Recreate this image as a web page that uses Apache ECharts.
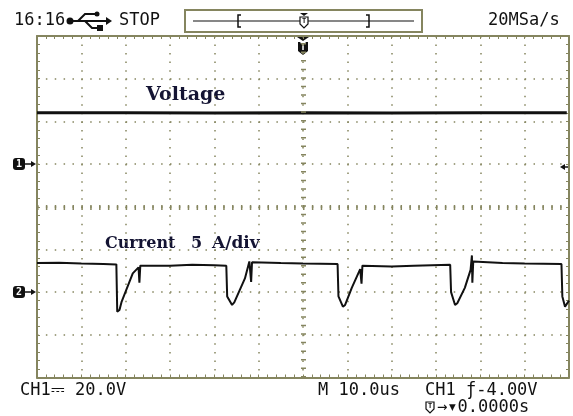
<!DOCTYPE html>
<html>
<head>
<meta charset="utf-8">
<script src="https://cdn.jsdelivr.net/npm/echarts@6/dist/echarts.min.js"></script>
<style>
  html, body { margin: 0; padding: 0; background: #fff; }
  #scope { width: 573px; height: 416px; }
</style>
</head>
<body>
<div id="scope"></div>
<script>
// time axis in microseconds (M 10.0us / div, 12 div)
var timeTicks = [-60, 60, 10];
// CH1 voltage (V), 20 V/div
var voltTime = [-60, -40, -20, 0, 20, 40, 59.5];
var voltValue = [24.0, 24.0, 23.9, 24.0, 23.9, 24.0, 24.0];
// CH2 current (A), 5 A/div
var currTime = [-60, -55, -50, -45, -42.1, -41.9, -41.4, -40.9, -38.4, -37.1, -36.9, -36.7, -36.4,
  -30, -25, -20, -17.3, -17.1, -16.0, -15.5, -13.1, -12.1, -11.9, -11.7, -11.5,
  -5, 0, 7.8, 8.0, 9.0, 9.5, 11.0, 12.9, 13.2, 13.4,
  20, 25, 33.2, 33.4, 34.3, 34.8, 36.5, 37.8, 38.1, 38.2, 38.4,
  45, 50, 58.3, 58.5, 59.1, 60];
var currValue = [3.4, 3.45, 3.35, 3.3, 3.25, -2.3, -2.1, -1.1, 2.2, 2.9, 1.1, 3.1, 3.2,
  3.1, 3.2, 3.15, 3.1, -0.5, -1.5, -1.2, 1.6, 3.6, 3.75, 1.2, 3.5,
  3.4, 3.35, 3.3, -0.5, -1.7, -1.5, 0.5, 2.7, 1.0, 3.1,
  3.0, 3.1, 3.2, 0.0, -1.5, -1.3, 0.5, 2.6, 4.3, 1.1, 3.6,
  3.4, 3.35, 3.3, -0.5, -1.7, -1.0];

var OLIVE = "#85855f";
var MONO = "DejaVu Sans Mono";
var STATUS_FONT = "17px " + MONO;

function pairs(xs, ys) {
    return xs.map(function (x, i) { return [x, ys[i]]; });
}

var chart = echarts.init(document.getElementById("scope"), null, { renderer: "canvas" });

function frameAxis(pos, min, max, step, dots) {
    return {
        type: "value",
        position: pos,
        min: min,
        max: max,
        interval: step,
        axisLine: { show: true, onZero: false, lineStyle: { color: OLIVE, width: 2 } },
        axisTick: { show: true, inside: true, length: 3, lineStyle: { color: OLIVE } },
        minorTick: { show: true, splitNumber: 5, length: 3, lineStyle: { color: OLIVE } },
        axisLabel: { show: false },
        splitLine: dots ? { show: true, lineStyle: { color: OLIVE, width: 1.5, type: dots } } : { show: false }
    };
}

function txt(x, y, s, font, fill, align) {
    return {
        type: "text", x: x, y: y, silent: true,
        style: { text: s, font: font || STATUS_FONT, fill: fill || "#111",
                 textAlign: align || "left", textVerticalAlign: "middle" }
    };
}

function chMarker(label, y) {
    return [
        { type: "rect", shape: { x: 13, y: y - 6, width: 12, height: 12, r: 3 }, style: { fill: "#111" } },
        txt(19, y + 0.5, label, "bold 10px " + MONO, "#fff", "center"),
        { type: "line", shape: { x1: 25, y1: y, x2: 32, y2: y }, style: { stroke: "#111", lineWidth: 1.5 } },
        { type: "polygon", shape: { points: [[31, y - 3], [36, y], [31, y + 3]] }, style: { fill: "#111" } }
    ];
}

var graphics = [
    txt(14, 21, "16:16"),
    // usb symbol
    { type: "circle", shape: { cx: 70, cy: 21, r: 3.5 }, style: { fill: "#111" } },
    { type: "line", shape: { x1: 70, y1: 21, x2: 107, y2: 21 }, style: { stroke: "#111", lineWidth: 2 } },
    { type: "polygon", shape: { points: [[106, 17], [112, 21], [106, 25]] }, style: { fill: "#111" } },
    { type: "polyline", shape: { points: [[78, 21], [85, 14], [95, 14]] }, style: { stroke: "#111", lineWidth: 2, fill: null } },
    { type: "circle", shape: { cx: 97, cy: 14, r: 2.5 }, style: { fill: "#111" } },
    { type: "polyline", shape: { points: [[85, 21], [92, 28], [98, 28]] }, style: { stroke: "#111", lineWidth: 2, fill: null } },
    { type: "rect", shape: { x: 97, y: 25, width: 6, height: 6 }, style: { fill: "#111" } },
    txt(119, 21, "STOP"),
    // memory position box
    { type: "rect", shape: { x: 185, y: 10, width: 237, height: 22 }, style: { stroke: OLIVE, lineWidth: 2, fill: null } },
    { type: "line", shape: { x1: 193, y1: 21, x2: 414, y2: 21 }, style: { stroke: "#111", lineWidth: 1.2 } },
    { type: "polyline", shape: { points: [[241, 15], [238, 15], [238, 27], [241, 27]] }, style: { stroke: "#111", lineWidth: 1.5, fill: null } },
    { type: "polyline", shape: { points: [[366, 15], [369, 15], [369, 27], [366, 27]] }, style: { stroke: "#111", lineWidth: 1.5, fill: null } },
    { type: "polygon", shape: { points: [[300, 13], [308, 13], [304, 16]] }, style: { fill: "#111" } },
    { type: "polygon", shape: { points: [[300, 17], [308, 17], [308, 24], [304, 28], [300, 24]] }, style: { fill: "#fff", stroke: "#111", lineWidth: 1.2 } },
    txt(304, 21, "T", "bold 7px " + MONO, "#111", "center"),
    txt(488, 21, "20MSa/s"),
    // trigger position marker on the screen
    { type: "polygon", shape: { points: [[297, 37], [309, 37], [303, 41]] }, style: { fill: "#111" } },
    { type: "polygon", shape: { points: [[298, 42], [308, 42], [308, 51], [303, 55], [298, 51]] }, style: { fill: "#111" } },
    txt(303, 47.5, "T", "bold 10px " + MONO, "#fff", "center"),
    // trigger level arrow
    { type: "line", shape: { x1: 563, y1: 167, x2: 569, y2: 167 }, style: { stroke: "#111", lineWidth: 1.5 } },
    { type: "polygon", shape: { points: [[565, 164], [560, 167], [565, 170]] }, style: { fill: "#111" } },
    // trace labels
    txt(146, 95, "Voltage", "bold 19px DejaVu Serif", "#141433"),
    txt(105, 244, "Current", "bold 16px DejaVu Serif", "#141433"),
    txt(191, 244, "5", "bold 16px DejaVu Serif", "#141433"),
    txt(212, 244, "A/div", "bold 17px DejaVu Serif", "#141433"),
    // status line
    txt(20, 391, "CH1\u2393 20.0V"),
    txt(318, 391, "M 10.0us"),
    txt(425, 391, "CH1 \u0192-4.00V"),
    { type: "polygon", shape: { points: [[426, 402], [434, 402], [434, 409], [430, 413], [426, 409]] }, style: { fill: "#fff", stroke: "#111", lineWidth: 1.2 } },
    txt(430, 406.5, "T", "bold 7px " + MONO, "#111", "center"),
    txt(437, 408, "\u2192\u25BE0.0000s")
];
graphics = graphics.concat(chMarker("1", 164), chMarker("2", 292));

chart.setOption({
    animation: false,
    backgroundColor: "#fff",
    grid: { left: 37, right: 4, top: 36, bottom: 38.5, show: false },
    xAxis: [
        frameAxis("bottom", timeTicks[0], timeTicks[1], timeTicks[2], [1.5, 7.0375]),
        frameAxis("top", timeTicks[0], timeTicks[1], timeTicks[2], null)
    ],
    yAxis: [
        frameAxis("left", -100, 60, 20, [1.5, 7.3667]),
        frameAxis("right", -10, 30, 5, null)
    ],
    series: [
        {
            name: "Voltage",
            type: "line",
            xAxisIndex: 0,
            yAxisIndex: 0,
            data: pairs(voltTime, voltValue),
            showSymbol: false,
            lineStyle: { color: "#111", width: 3 },
            markLine: {
                silent: true,
                symbol: "none",
                label: { show: false },
                data: [
                    { yAxis: -20, lineStyle: { color: OLIVE, width: 5, type: [1.5, 7.3667] } },
                    { xAxis: 0, lineStyle: { color: OLIVE, width: 5, type: [1.5, 7.0375] } }
                ]
            }
        },
        {
            name: "Current",
            type: "line",
            xAxisIndex: 0,
            yAxisIndex: 1,
            data: pairs(currTime, currValue),
            showSymbol: false,
            lineStyle: { color: "#111", width: 2 }
        }
    ],
    graphic: graphics
});

window.addEventListener("resize", function () {
    chart.resize();
});
</script>
</body>
</html>
